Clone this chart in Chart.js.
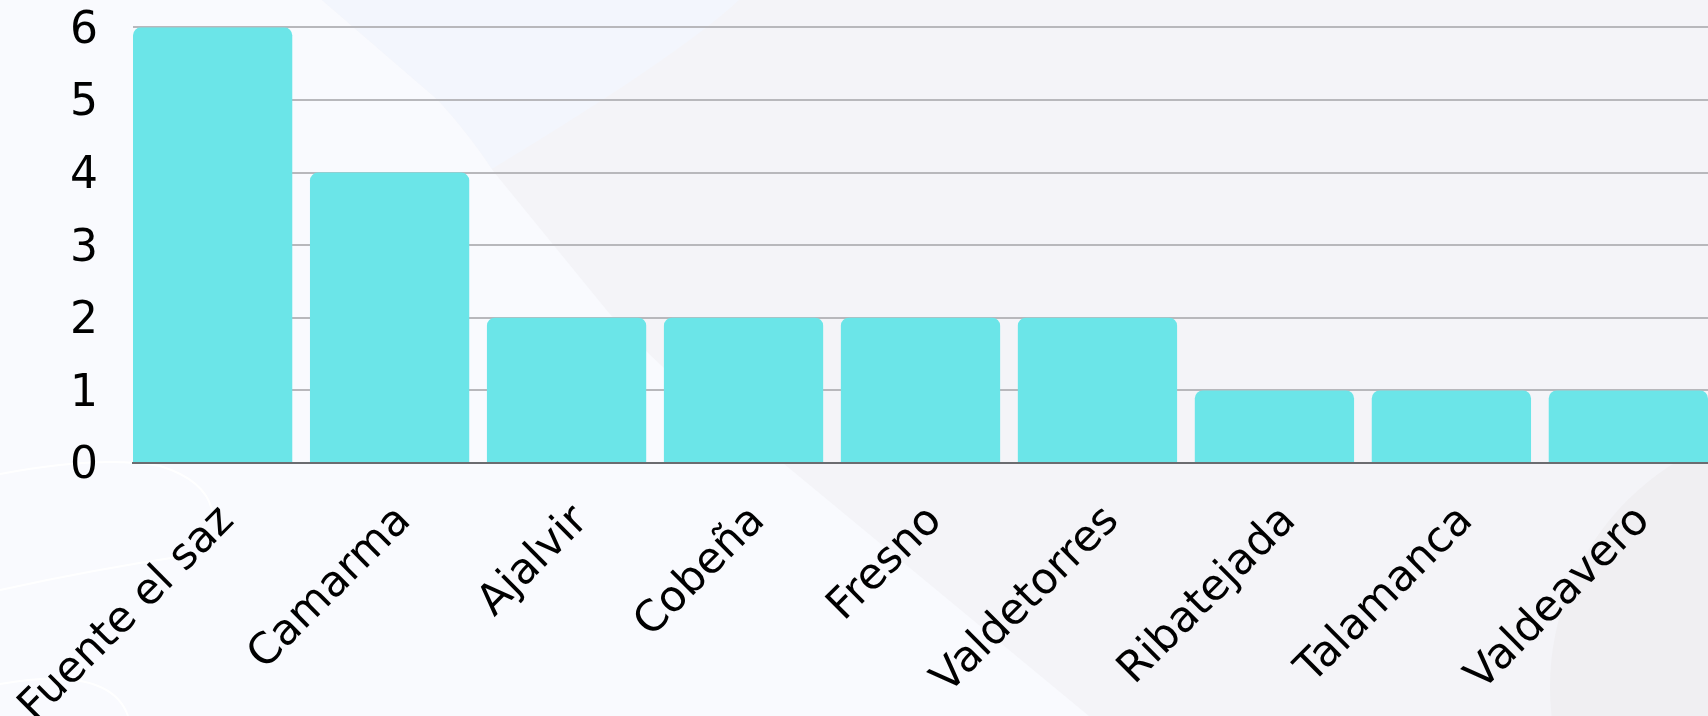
<!DOCTYPE html>
<html>
<head>
<meta charset="utf-8">
<script src="https://cdn.jsdelivr.net/npm/chart.js@4.4.1/dist/chart.umd.min.js"></script>
<style>
html,body{margin:0;padding:0;background:#f9fafe;overflow:hidden}
#wrap{width:1708px;height:716px;position:relative}
</style>
</head>
<body>
<div id="wrap"><canvas id="c"></canvas></div>
<script>
const categories = ['Fuente el saz','Camarma','Ajalvir','Cobeña','Fresno','Valdetorres','Ribatejada','Talamanca','Valdeavero'];
const counts = [6,4,2,2,2,2,1,1,1];
const yTicks = [0,1,2,3,4,5,6];

const bgPlugin = {
  id: 'bg',
  beforeDraw(chart) {
    const ctx = chart.ctx, W = chart.width, H = chart.height;
    ctx.save();
    ctx.fillStyle = '#f9fafe';
    ctx.fillRect(0,0,W,H);
    const gray = new Path2D();
    gray.moveTo(322,0);
    gray.lineTo(438,100);
    gray.quadraticCurveTo(470,135,494,172);
    gray.lineTo(609,313);
    gray.quadraticCurveTo(690,400,783,463);
    gray.lineTo(1089,716);
    gray.lineTo(W,H); gray.lineTo(W,0); gray.closePath();
    ctx.fillStyle = '#f4f4f8';
    ctx.fill(gray);
    ctx.save();
    ctx.clip(gray);
    ctx.beginPath();
    ctx.moveTo(0,0); ctx.lineTo(739,0);
    ctx.quadraticCurveTo(680,55,490,170);
    ctx.lineTo(0,420); ctx.closePath();
    ctx.fillStyle = '#f3f6fd';
    ctx.fill();
    ctx.restore();
    ctx.beginPath();
    ctx.arc(1814,687,264,0,Math.PI*2);
    ctx.fillStyle = '#f0eff2';
    ctx.fill();
    ctx.strokeStyle = '#ffffff';
    ctx.lineWidth = 2;
    ctx.beginPath();
    ctx.moveTo(0,474); ctx.quadraticCurveTo(100,455,160,466);
    ctx.quadraticCurveTo(205,480,212,510);
    ctx.stroke();
    ctx.beginPath();
    ctx.moveTo(0,590); ctx.quadraticCurveTo(90,570,190,555);
    ctx.stroke();
    ctx.beginPath();
    ctx.moveTo(0,684); ctx.quadraticCurveTo(110,665,128,716);
    ctx.stroke();
    ctx.restore();
  }
};

new Chart(document.getElementById('c'), {
  type: 'bar',
  data: {
    datasets: [{
      data: counts.map((v,i)=>({x:i, y:v})),
      backgroundColor: '#6be5e8',
      borderRadius: 8,
      barPercentage: 0.9,
      categoryPercentage: 1
    }]
  },
  options: {
    responsive: true,
    maintainAspectRatio: false,
    animation: false,
    layout: { padding: 0 },
    plugins: { legend: { display: false }, tooltip: { enabled: false } },
    scales: {
      x: {
        type: 'linear',
        min: -0.45,
        max: categories.length - 0.55,
        offset: false,
        grid: { display: false, drawTicks: false },
        border: { display: true, color: '#6b6c70', width: 2 },
        ticks: {
          stepSize: 1,
          includeBounds: false,
          autoSkip: false,
          minRotation: 45,
          maxRotation: 45,
          padding: 33,
          labelOffset: 15,
          color: '#000',
          font: { family: 'DejaVu Sans', size: 43 },
          callback: (v) => Number.isInteger(v) && categories[v] !== undefined ? categories[v] : ''
        },
        afterFit: (s) => { s.height = 253; s.paddingLeft = 0; s.paddingRight = 0; }
      },
      y: {
        min: 0,
        max: 6,
        grid: { color: '#b8b8bc', lineWidth: 2, drawTicks: false },
        border: { display: false },
        ticks: {
          stepSize: 1,
          padding: 35,
          labelOffset: 4,
          color: '#000',
          font: { family: 'DejaVu Sans', size: 44 }
        },
        afterBuildTicks: (s) => { s.ticks = yTicks.map(v => ({value: v})); },
        afterFit: (s) => { s.width = 133; s.paddingTop = 27.3; s.paddingBottom = 0; }
      }
    }
  },
  plugins: [bgPlugin]
});
</script>
</body>
</html>
